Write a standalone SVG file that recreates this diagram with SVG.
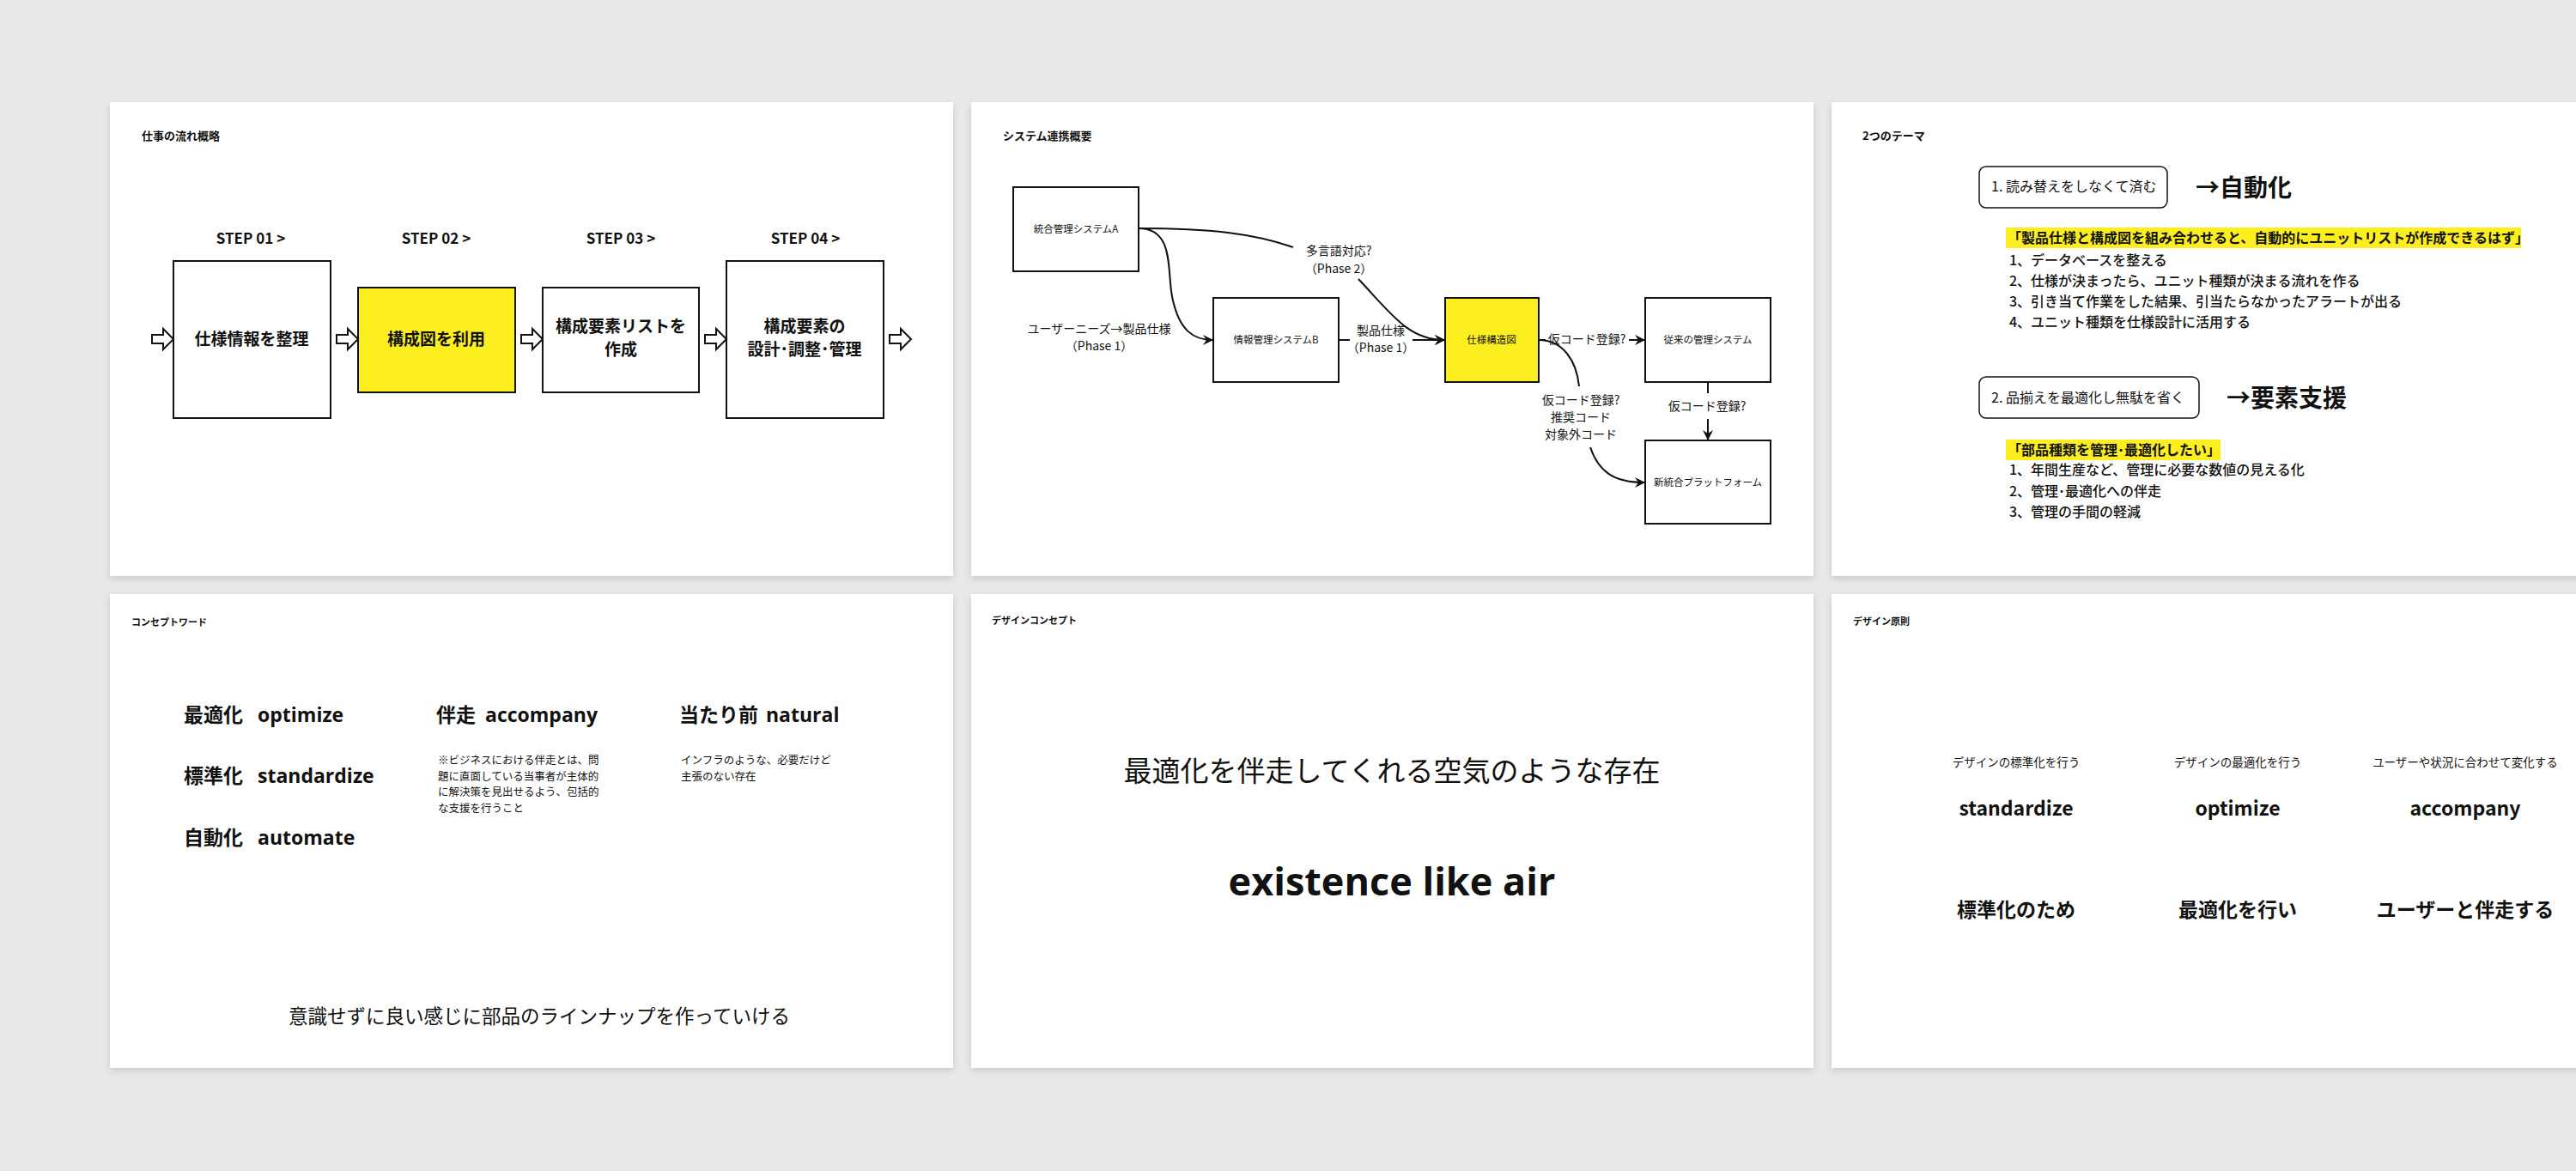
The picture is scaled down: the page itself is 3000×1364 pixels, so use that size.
<svg xmlns="http://www.w3.org/2000/svg" xmlns:xlink="http://www.w3.org/1999/xlink" width="3000" height="1364" viewBox="0 0 3000 1364">
<style>
text{font-family:"Noto Sans CJK JP","Noto Sans",sans-serif;fill:#111}
.en{font-family:"Open Sans","Noto Sans CJK JP",sans-serif}
.b{font-weight:700}
.m{text-anchor:middle}
.slide{fill:#fff;filter:url(#sh)}
.box{fill:#fff;stroke:#111;stroke-width:2}
.yel{fill:#fdee1f;stroke:#111;stroke-width:2}
.hl{fill:#fdee1f}
.con{fill:none;stroke:#111;stroke-width:2}
.arr{marker-end:url(#ah)}
.ttl{font-size:13px;font-weight:700}
</style>
<defs>
<filter id="sh" x="-5%" y="-5%" width="110%" height="112%"><feDropShadow dx="0" dy="3" stdDeviation="4" flood-color="#000" flood-opacity="0.15"/></filter>
<marker id="ah" viewBox="0 0 12 12" refX="11" refY="6" markerWidth="12" markerHeight="12" markerUnits="userSpaceOnUse" orient="auto"><path d="M0,0 L12,6 L0,12 L4,6 z" fill="#111"/></marker>
<path id="ba" d="M0,-5 H13 V-12 L25,0 L13,12 V5 H0 Z" fill="#fff" stroke="#111" stroke-width="2"/>
</defs>
<rect width="3000" height="1364" fill="#e9e9e9"/>

<g id="slide1">
<rect class="slide" x="128" y="119" width="982" height="552"/>
<text x="165" y="163" class="ttl">仕事の流れ概略</text>
<g class="b m" font-size="17"><text x="292" y="284">STEP 01 &gt;</text><text x="508" y="284">STEP 02 &gt;</text><text x="723" y="284">STEP 03 &gt;</text><text x="938" y="284">STEP 04 &gt;</text></g>
<g id="s1box1"><rect class="box" x="202" y="304" width="183" height="183"/><text x="293" y="402" class="b m" font-size="19">仕様情報を整理</text></g>
<g id="s1box2"><rect class="yel" x="417" y="335" width="183" height="122"/><text x="508" y="402" class="b m" font-size="19">構成図を利用</text></g>
<g id="s1box3"><rect class="box" x="632" y="335" width="182" height="122"/><text x="723" y="387" class="b m" font-size="19">構成要素リストを</text><text x="723" y="414" class="b m" font-size="19">作成</text></g>
<g id="s1box4"><rect class="box" x="846" y="304" width="183" height="183"/><text x="937" y="387" class="b m" font-size="19">構成要素の</text><text x="937" y="414" class="b m" font-size="19">設計･調整･管理</text></g>
<g id="s1arrows"><use xlink:href="#ba" x="177" y="395"/><use xlink:href="#ba" x="392" y="395"/><use xlink:href="#ba" x="607" y="395"/><use xlink:href="#ba" x="821" y="395"/><use xlink:href="#ba" x="1036" y="395"/></g>
</g>

<g id="slide2">
<rect class="slide" x="1131" y="119" width="981" height="552"/>
<text x="1168" y="163" class="ttl">システム連携概要</text>
<g id="nA"><rect class="box" x="1180" y="218" width="146" height="98"/><text x="1253" y="271" class="m" font-size="11.5">統合管理システムA</text></g>
<g id="nB"><rect class="box" x="1413" y="347" width="146" height="98"/><text x="1486" y="400" class="m" font-size="11.5">情報管理システムB</text></g>
<g id="nS"><rect class="yel" x="1683" y="347" width="109" height="98"/><text x="1737" y="400" class="m" font-size="11.5">仕様構造図</text></g>
<g id="nO"><rect class="box" x="1916" y="347" width="146" height="98"/><text x="1989" y="400" class="m" font-size="11.5">従来の管理システム</text></g>
<g id="nN"><rect class="box" x="1916" y="513" width="146" height="97"/><text x="1989" y="566" class="m" font-size="11.5">新統合プラットフォーム</text></g>
<g id="connectors">
<path class="con arr" d="M1326,266 C1370,266 1358,320 1366,350 C1374,385 1390,396 1412,396"/>
<path class="con" d="M1326,266 C1410,266 1460,272 1506,288"/>
<path class="con arr" d="M1582,325 C1620,365 1640,396 1682,396"/>
<path class="con" d="M1559,396 H1572"/>
<path class="con arr" d="M1645,396 H1682"/>
<path class="con" d="M1792,396 H1800"/>
<path class="con arr" d="M1897,396 H1915"/>
<path class="con" d="M1792,396 C1820,396 1836,420 1839,450"/>
<path class="con arr" d="M1852,521 C1862,550 1880,562 1915,562"/>
<path class="con" d="M1989,445 V458"/>
<path class="con arr" d="M1989,488 V512"/>
</g>
<g font-size="14" class="m">
<text x="1280" y="388">ユーザーニーズ→製品仕様</text><text x="1280" y="408">（Phase 1）</text>
<text x="1608" y="390">製品仕様</text><text x="1608" y="410">（Phase 1）</text>
<text x="1559" y="297">多言語対応?</text><text x="1559" y="318">（Phase 2）</text>
<text x="1848" y="400">仮コード登録?</text>
<text x="1988" y="478">仮コード登録?</text>
<text x="1841" y="471">仮コード登録?</text><text x="1841" y="491">推奨コード</text><text x="1841" y="511">対象外コード</text>
</g>
</g>

<g id="slide3">
<rect class="slide" x="2133" y="119" width="982" height="552"/>
<text x="2169" y="163" class="ttl">2つのテーマ</text>
<rect x="2305" y="194" width="219" height="48" rx="8" fill="#fff" stroke="#111" stroke-width="1.5"/>
<text x="2319" y="223" font-size="16">1. 読み替えをしなくて済む</text>
<text x="2557" y="229" font-size="28" class="b">→自動化</text>
<rect class="hl" x="2336" y="265" width="600" height="24"/>
<g font-size="16" class="b">
<text x="2338" y="283">「製品仕様と構成図を組み合わせると、自動的にユニットリストが作成できるはず」</text>
</g>
<g font-size="16" font-weight="500">
<text x="2340" y="309">1、データベースを整える</text>
<text x="2340" y="333">2、仕様が決まったら、ユニット種類が決まる流れを作る</text>
<text x="2340" y="357">3、引き当て作業をした結果、引当たらなかったアラートが出る</text>
<text x="2340" y="381">4、ユニット種類を仕様設計に活用する</text>
</g>
<rect x="2305" y="439" width="256" height="48" rx="8" fill="#fff" stroke="#111" stroke-width="1.5"/>
<text x="2319" y="469" font-size="16">2. 品揃えを最適化し無駄を省く</text>
<text x="2593" y="474" font-size="28" class="b">→要素支援</text>
<rect class="hl" x="2336" y="512" width="250" height="24"/>
<text x="2338" y="530" font-size="16" class="b">「部品種類を管理･最適化したい」</text>
<g font-size="16" font-weight="500">
<text x="2340" y="553">1、年間生産など、管理に必要な数値の見える化</text>
<text x="2340" y="578">2、管理･最適化への伴走</text>
<text x="2340" y="602">3、管理の手間の軽減</text>
</g>
</g>

<g id="slide4">
<rect class="slide" x="128" y="692" width="982" height="552"/>
<text x="153" y="729" font-size="11" class="b">コンセプトワード</text>
<g font-size="23" class="b">
<text x="214" y="841">最適化</text><text x="300" y="841" class="en">optimize</text>
<text x="214" y="912">標準化</text><text x="300" y="912" class="en">standardize</text>
<text x="214" y="984">自動化</text><text x="300" y="984" class="en">automate</text>
<text x="508" y="841">伴走</text><text x="565" y="841" class="en">accompany</text>
<text x="791" y="841">当たり前</text><text x="892" y="841" class="en">natural</text>
</g>
<g font-size="12.5" fill="#222">
<text x="510" y="890">※ビジネスにおける伴走とは、問</text>
<text x="510" y="909">題に直面している当事者が主体的</text>
<text x="510" y="927">に解決策を見出せるよう、包括的</text>
<text x="510" y="946">な支援を行うこと</text>
<text x="793" y="890">インフラのような、必要だけど</text>
<text x="793" y="909">主張のない存在</text>
</g>
<text x="628" y="1192" font-size="22.5" class="m">意識せずに良い感じに部品のラインナップを作っていける</text>
</g>

<g id="slide5">
<rect class="slide" x="1131" y="692" width="981" height="552"/>
<text x="1155" y="727" font-size="11" class="b">デザインコンセプト</text>
<text x="1621" y="910" font-size="33" class="m">最適化を伴走してくれる空気のような存在</text>
<text x="1621" y="1043" font-size="45" class="m b en">existence like air</text>
</g>

<g id="slide6">
<rect class="slide" x="2133" y="692" width="982" height="552"/>
<text x="2158" y="728" font-size="11" class="b">デザイン原則</text>
<g font-size="13.5" class="m" fill="#222">
<text x="2348" y="893">デザインの標準化を行う</text><text x="2606" y="893">デザインの最適化を行う</text><text x="2871" y="893">ユーザーや状況に合わせて変化する</text>
</g>
<g font-size="23" class="m b en">
<text x="2348" y="950">standardize</text><text x="2606" y="950">optimize</text><text x="2871" y="950">accompany</text>
</g>
<g font-size="23" class="m b">
<text x="2348" y="1068">標準化のため</text><text x="2606" y="1068">最適化を行い</text><text x="2871" y="1068">ユーザーと伴走する</text>
</g>
</g>
</svg>
